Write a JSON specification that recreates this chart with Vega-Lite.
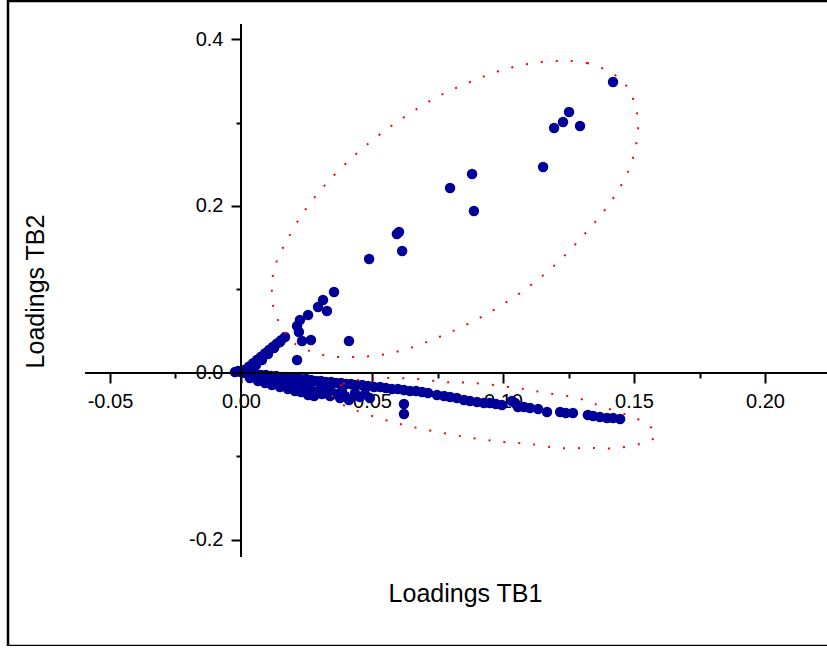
{
  "$schema": "https://vega.github.io/schema/vega-lite/v6.json",
  "width": 830,
  "height": 645,
  "autosize": {"type": "none"},
  "padding": {"left": 8, "top": 1, "right": 0, "bottom": 0},
  "background": "white",
  "config": {"view": {"stroke": "black", "strokeWidth": 2.5}, "font": "Liberation Sans"},
  "datasets": {
    "points": [
      {"tb1": 0.1420, "tb2": 0.3485}, {"tb1": 0.1252, "tb2": 0.3126}, {"tb1": 0.1229, "tb2": 0.3006}, {"tb1": 0.1195, "tb2": 0.2934},
      {"tb1": 0.1294, "tb2": 0.2958}, {"tb1": 0.1153, "tb2": 0.2467}, {"tb1": 0.0882, "tb2": 0.2383}, {"tb1": 0.0798, "tb2": 0.2216},
      {"tb1": 0.0889, "tb2": 0.1940}, {"tb1": 0.0603, "tb2": 0.1689}, {"tb1": 0.0595, "tb2": 0.1665}, {"tb1": 0.0615, "tb2": 0.1461},
      {"tb1": 0.0489, "tb2": 0.1365}, {"tb1": 0.0355, "tb2": 0.0970}, {"tb1": 0.0313, "tb2": 0.0874}, {"tb1": 0.0294, "tb2": 0.0790},
      {"tb1": 0.0328, "tb2": 0.0743}, {"tb1": 0.0256, "tb2": 0.0695}, {"tb1": 0.0225, "tb2": 0.0635}, {"tb1": 0.0214, "tb2": 0.0563},
      {"tb1": 0.0221, "tb2": 0.0491}, {"tb1": 0.0233, "tb2": 0.0383}, {"tb1": 0.0267, "tb2": 0.0395}, {"tb1": 0.0412, "tb2": 0.0383},
      {"tb1": 0.0214, "tb2": 0.0156},
      {"tb1": 0.0015, "tb2": 0.0039}, {"tb1": 0.0031, "tb2": 0.0079}, {"tb1": 0.0046, "tb2": 0.0118}, {"tb1": 0.0061, "tb2": 0.0157},
      {"tb1": 0.0076, "tb2": 0.0196}, {"tb1": 0.0092, "tb2": 0.0236}, {"tb1": 0.0107, "tb2": 0.0275}, {"tb1": 0.0122, "tb2": 0.0314},
      {"tb1": 0.0137, "tb2": 0.0354}, {"tb1": 0.0153, "tb2": 0.0393}, {"tb1": 0.0168, "tb2": 0.0432},
      {"tb1": 0.0034, "tb2": 0.0048}, {"tb1": 0.0057, "tb2": 0.0096}, {"tb1": 0.0080, "tb2": 0.0156}, {"tb1": 0.0103, "tb2": 0.0228},
      {"tb1": 0.0126, "tb2": 0.0299}, {"tb1": 0.0149, "tb2": 0.0371},
      {"tb1": 0.0000, "tb2": 0.0012}, {"tb1": -0.0023, "tb2": 0.0012}, {"tb1": -0.0011, "tb2": 0.0024}, {"tb1": 0.0008, "tb2": 0.0005},
      {"tb1": 0.0019, "tb2": 0.0000}, {"tb1": 0.0038, "tb2": -0.0012}, {"tb1": 0.0057, "tb2": -0.0012}, {"tb1": 0.0076, "tb2": -0.0024},
      {"tb1": 0.0095, "tb2": -0.0024}, {"tb1": 0.0115, "tb2": -0.0036}, {"tb1": 0.0134, "tb2": -0.0036}, {"tb1": 0.0153, "tb2": -0.0048},
      {"tb1": 0.0172, "tb2": -0.0048}, {"tb1": 0.0191, "tb2": -0.0060}, {"tb1": 0.0210, "tb2": -0.0060}, {"tb1": 0.0229, "tb2": -0.0072},
      {"tb1": 0.0248, "tb2": -0.0072}, {"tb1": 0.0267, "tb2": -0.0084}, {"tb1": 0.0286, "tb2": -0.0096}, {"tb1": 0.0305, "tb2": -0.0096},
      {"tb1": 0.0324, "tb2": -0.0108}, {"tb1": 0.0344, "tb2": -0.0108}, {"tb1": 0.0363, "tb2": -0.0120}, {"tb1": 0.0382, "tb2": -0.0120},
      {"tb1": 0.0401, "tb2": -0.0132}, {"tb1": 0.0420, "tb2": -0.0132}, {"tb1": 0.0439, "tb2": -0.0144}, {"tb1": 0.0462, "tb2": -0.0144},
      {"tb1": 0.0485, "tb2": -0.0156}, {"tb1": 0.0508, "tb2": -0.0168}, {"tb1": 0.0531, "tb2": -0.0168}, {"tb1": 0.0553, "tb2": -0.0180},
      {"tb1": 0.0576, "tb2": -0.0192}, {"tb1": 0.0599, "tb2": -0.0192}, {"tb1": 0.0622, "tb2": -0.0204}, {"tb1": 0.0645, "tb2": -0.0216},
      {"tb1": 0.0668, "tb2": -0.0216}, {"tb1": 0.0691, "tb2": -0.0228}, {"tb1": 0.0714, "tb2": -0.0240}, {"tb1": 0.0748, "tb2": -0.0263},
      {"tb1": 0.0775, "tb2": -0.0275}, {"tb1": 0.0798, "tb2": -0.0287}, {"tb1": 0.0824, "tb2": -0.0299}, {"tb1": 0.0851, "tb2": -0.0323},
      {"tb1": 0.0874, "tb2": -0.0335}, {"tb1": 0.0901, "tb2": -0.0347}, {"tb1": 0.0927, "tb2": -0.0359}, {"tb1": 0.0950, "tb2": -0.0359},
      {"tb1": 0.0973, "tb2": -0.0371}, {"tb1": 0.0996, "tb2": -0.0383}, {"tb1": 0.1034, "tb2": -0.0335}, {"tb1": 0.1046, "tb2": -0.0359},
      {"tb1": 0.1057, "tb2": -0.0407}, {"tb1": 0.1080, "tb2": -0.0407}, {"tb1": 0.1103, "tb2": -0.0419}, {"tb1": 0.1134, "tb2": -0.0431},
      {"tb1": 0.1168, "tb2": -0.0467}, {"tb1": 0.1218, "tb2": -0.0467}, {"tb1": 0.1240, "tb2": -0.0479}, {"tb1": 0.1267, "tb2": -0.0479},
      {"tb1": 0.1324, "tb2": -0.0503}, {"tb1": 0.1344, "tb2": -0.0515}, {"tb1": 0.1370, "tb2": -0.0527}, {"tb1": 0.1397, "tb2": -0.0539},
      {"tb1": 0.1420, "tb2": -0.0539}, {"tb1": 0.1447, "tb2": -0.0551},
      {"tb1": 0.0034, "tb2": -0.0060}, {"tb1": 0.0065, "tb2": -0.0096}, {"tb1": 0.0092, "tb2": -0.0120}, {"tb1": 0.0118, "tb2": -0.0144},
      {"tb1": 0.0149, "tb2": -0.0168}, {"tb1": 0.0179, "tb2": -0.0192}, {"tb1": 0.0206, "tb2": -0.0216}, {"tb1": 0.0229, "tb2": -0.0228},
      {"tb1": 0.0256, "tb2": -0.0263}, {"tb1": 0.0279, "tb2": -0.0275}, {"tb1": 0.0309, "tb2": -0.0251}, {"tb1": 0.0340, "tb2": -0.0275},
      {"tb1": 0.0378, "tb2": -0.0299}, {"tb1": 0.0412, "tb2": -0.0323},
      {"tb1": 0.0073, "tb2": -0.0072}, {"tb1": 0.0111, "tb2": -0.0096}, {"tb1": 0.0149, "tb2": -0.0120}, {"tb1": 0.0187, "tb2": -0.0144},
      {"tb1": 0.0225, "tb2": -0.0156}, {"tb1": 0.0263, "tb2": -0.0180}, {"tb1": 0.0302, "tb2": -0.0192}, {"tb1": 0.0340, "tb2": -0.0204},
      {"tb1": 0.0385, "tb2": -0.0216}, {"tb1": 0.0435, "tb2": -0.0240}, {"tb1": 0.0473, "tb2": -0.0251},
      {"tb1": 0.0053, "tb2": -0.0036}, {"tb1": 0.0206, "tb2": -0.0180}, {"tb1": 0.0282, "tb2": -0.0228}, {"tb1": 0.0359, "tb2": -0.0251},
      {"tb1": 0.0397, "tb2": -0.0275}, {"tb1": 0.0454, "tb2": -0.0287}, {"tb1": 0.0492, "tb2": -0.0299}, {"tb1": 0.0170, "tb2": -0.0110},
      {"tb1": 0.0245, "tb2": -0.0140}, {"tb1": 0.0320, "tb2": -0.0160},
      {"tb1": 0.0622, "tb2": -0.0371}, {"tb1": 0.0622, "tb2": -0.0491}
    ],
    "ellipses": [
      {"ring": "a", "i": 1, "x": 0.1206, "y": 0.3737}, {"ring": "a", "i": 2, "x": 0.1321, "y": 0.3713},
      {"ring": "a", "i": 3, "x": 0.1427, "y": 0.3569}, {"ring": "a", "i": 4, "x": 0.1485, "y": 0.3365},
      {"ring": "a", "i": 5, "x": 0.1515, "y": 0.3030}, {"ring": "a", "i": 6, "x": 0.1504, "y": 0.2671},
      {"ring": "a", "i": 7, "x": 0.1466, "y": 0.2335}, {"ring": "a", "i": 8, "x": 0.1397, "y": 0.1988},
      {"ring": "a", "i": 9, "x": 0.1305, "y": 0.1641}, {"ring": "a", "i": 10, "x": 0.1202, "y": 0.1305},
      {"ring": "a", "i": 11, "x": 0.1092, "y": 0.1018}, {"ring": "a", "i": 12, "x": 0.0977, "y": 0.0778},
      {"ring": "a", "i": 13, "x": 0.0866, "y": 0.0587}, {"ring": "a", "i": 14, "x": 0.0756, "y": 0.0431},
      {"ring": "a", "i": 15, "x": 0.0645, "y": 0.0299}, {"ring": "a", "i": 16, "x": 0.0534, "y": 0.0216},
      {"ring": "a", "i": 17, "x": 0.0424, "y": 0.0192}, {"ring": "a", "i": 18, "x": 0.0313, "y": 0.0216},
      {"ring": "a", "i": 19, "x": 0.0198, "y": 0.0371}, {"ring": "a", "i": 20, "x": 0.0130, "y": 0.0719},
      {"ring": "a", "i": 21, "x": 0.0118, "y": 0.1054}, {"ring": "a", "i": 22, "x": 0.0134, "y": 0.1317},
      {"ring": "a", "i": 23, "x": 0.0172, "y": 0.1569}, {"ring": "a", "i": 24, "x": 0.0237, "y": 0.1916},
      {"ring": "a", "i": 25, "x": 0.0324, "y": 0.2263}, {"ring": "a", "i": 26, "x": 0.0431, "y": 0.2599},
      {"ring": "a", "i": 27, "x": 0.0542, "y": 0.2886}, {"ring": "a", "i": 28, "x": 0.0653, "y": 0.3126},
      {"ring": "a", "i": 29, "x": 0.0763, "y": 0.3329}, {"ring": "a", "i": 30, "x": 0.0874, "y": 0.3485},
      {"ring": "a", "i": 31, "x": 0.0985, "y": 0.3617}, {"ring": "a", "i": 32, "x": 0.1095, "y": 0.3701},
      {"ring": "b", "i": 1, "x": 0.0347, "y": -0.0251}, {"ring": "b", "i": 2, "x": 0.0389, "y": -0.0132},
      {"ring": "b", "i": 3, "x": 0.0447, "y": -0.0084}, {"ring": "b", "i": 4, "x": 0.0557, "y": -0.0060},
      {"ring": "b", "i": 5, "x": 0.0672, "y": -0.0072}, {"ring": "b", "i": 6, "x": 0.0779, "y": -0.0108},
      {"ring": "b", "i": 7, "x": 0.0889, "y": -0.0120}, {"ring": "b", "i": 8, "x": 0.1053, "y": -0.0180},
      {"ring": "b", "i": 9, "x": 0.1168, "y": -0.0240}, {"ring": "b", "i": 10, "x": 0.1282, "y": -0.0299},
      {"ring": "b", "i": 11, "x": 0.1382, "y": -0.0407}, {"ring": "b", "i": 12, "x": 0.1496, "y": -0.0527},
      {"ring": "b", "i": 13, "x": 0.1553, "y": -0.0623}, {"ring": "b", "i": 14, "x": 0.1584, "y": -0.0731},
      {"ring": "b", "i": 15, "x": 0.1550, "y": -0.0826}, {"ring": "b", "i": 16, "x": 0.1435, "y": -0.0898},
      {"ring": "b", "i": 17, "x": 0.1324, "y": -0.0898}, {"ring": "b", "i": 18, "x": 0.1214, "y": -0.0898},
      {"ring": "b", "i": 19, "x": 0.1103, "y": -0.0850}, {"ring": "b", "i": 20, "x": 0.0996, "y": -0.0826},
      {"ring": "b", "i": 21, "x": 0.0882, "y": -0.0778}, {"ring": "b", "i": 22, "x": 0.0771, "y": -0.0719},
      {"ring": "b", "i": 23, "x": 0.0656, "y": -0.0647}, {"ring": "b", "i": 24, "x": 0.0550, "y": -0.0563},
      {"ring": "b", "i": 25, "x": 0.0435, "y": -0.0443}, {"ring": "b", "i": 26, "x": 0.0378, "y": -0.0359}
    ]
  },
  "layer": [
    {
      "data": {"name": "points"},
      "mark": {"type": "point", "shape": "circle", "filled": true, "color": "#000099", "opacity": 1, "size": 110},
      "encoding": {
        "x": {
          "field": "tb1", "type": "quantitative",
          "scale": {"domain": [-0.08893, 0.22786], "nice": false, "zero": false},
          "axis": {
            "orient": "bottom", "offset": -273, "domain": false, "grid": false,
            "values": [-0.05, -0.025, 0, 0.025, 0.05, 0.075, 0.1, 0.125, 0.15, 0.175, 0.2],
            "tickSize": {"condition": {"test": "abs(datum.value*20 - round(datum.value*20)) < 0.01", "value": 10}, "value": 5},
            "tickWidth": 2, "tickColor": "black",
            "labelExpr": "abs(datum.value*20 - round(datum.value*20)) < 0.01 ? replace(format(datum.value, '.2f'), '\u2212', '-') : ''",
            "labelFontSize": 20, "labelFont": "Liberation Sans", "labelColor": "black", "labelPadding": 8,
            "labelFlush": false, "labelOverlap": false,
            "title": "Loadings TB1", "titleFontSize": 25, "titleFontWeight": "normal", "titleFont": "Liberation Sans",
            "titleColor": "black", "titleX": 457, "titleY": 220, "titleBaseline": "middle", "titleAlign": "center"
          }
        },
        "y": {
          "field": "tb2", "type": "quantitative",
          "scale": {"domain": [-0.32695, 0.44551], "nice": false, "zero": false},
          "axis": {
            "orient": "left", "offset": -233, "domain": false, "grid": false,
            "values": [-0.2, -0.1, 0, 0.1, 0.2, 0.3, 0.4],
            "tickSize": {"condition": {"test": "abs(datum.value*5 - round(datum.value*5)) < 0.01", "value": 10}, "value": 5},
            "tickWidth": 2, "tickColor": "black",
            "labelExpr": "abs(datum.value*5 - round(datum.value*5)) < 0.01 ? replace(format(datum.value, '.1f'), '\u2212', '-') : ''",
            "labelFontSize": 20, "labelFont": "Liberation Sans", "labelColor": "black", "labelPadding": 8,
            "labelFlush": false, "labelOverlap": false,
            "title": "Loadings TB2", "titleFontSize": 25, "titleFontWeight": "normal", "titleFont": "Liberation Sans",
            "titleColor": "black", "titleX": -206, "titleY": 290, "titleAngle": 270, "titleBaseline": "middle", "titleAlign": "center"
          }
        }
      }
    },
    {
      "data": {"name": "ellipses"},
      "mark": {"type": "line", "interpolate": "cardinal-closed", "color": "#FF0000", "strokeWidth": 2, "strokeDash": [2, 13], "strokeCap": "butt"},
      "encoding": {
        "x": {"field": "x", "type": "quantitative"},
        "y": {"field": "y", "type": "quantitative"},
        "detail": {"field": "ring"},
        "order": {"field": "i", "type": "quantitative"}
      }
    },
    {
      "data": {"values": [{}]},
      "mark": {"type": "rule", "color": "black", "strokeWidth": 2},
      "encoding": {
        "x": {"datum": -0.0595, "type": "quantitative"},
        "x2": {"datum": 0.2279},
        "y": {"datum": 0, "type": "quantitative"}
      }
    },
    {
      "data": {"values": [{}]},
      "mark": {"type": "rule", "color": "black", "strokeWidth": 2},
      "encoding": {
        "x": {"datum": 0, "type": "quantitative"},
        "y": {"datum": -0.2204, "type": "quantitative"},
        "y2": {"datum": 0.418}
      }
    }
  ]
}
